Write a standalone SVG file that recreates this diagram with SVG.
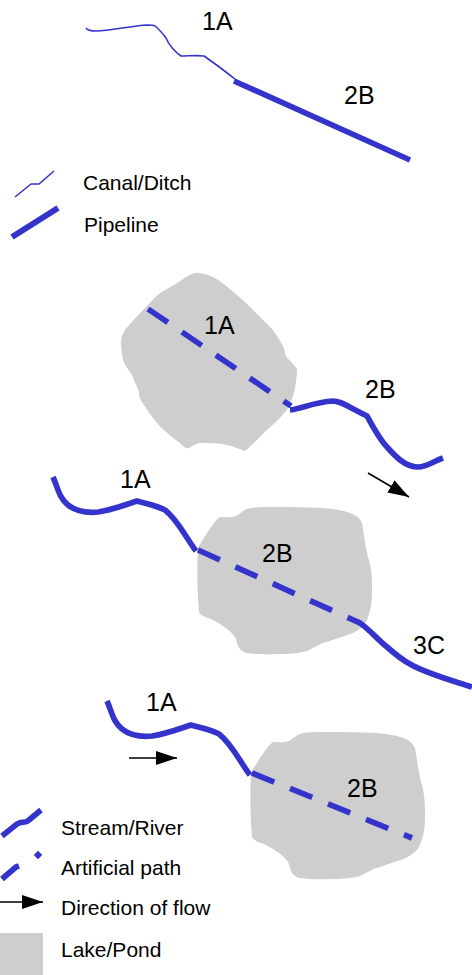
<svg xmlns="http://www.w3.org/2000/svg" xmlns:xlink="http://www.w3.org/1999/xlink" width="472" height="975" viewBox="0 0 472 975">
<style>
text{font-family:"Liberation Sans",Arial,sans-serif;fill:#000}
.lab{font-size:25px}
.leg{font-size:21px}
.lake{fill:#cecece;stroke:none}
.line{fill:none;stroke:#3434cc;stroke-linejoin:round}
.thin{stroke-width:1.6}
.thick{stroke-width:5.7}
.dash{stroke-dasharray:24 17}
.flow{stroke:#000;stroke-width:1.6;fill:none}
</style>
<defs>
<marker id="head" markerUnits="userSpaceOnUse" markerWidth="22" markerHeight="14" refX="21" refY="7" orient="auto"><polygon points="0,0 21,7 0,14" fill="#000"/></marker>
<path id="lakeB" d="M247,509 C243,510 240,514 236,516 C231,518 225,517 220,517 C215,520 204,537 198,548 C197,565 197,590 199,612 C203,618 208,617 213,620 C222,625 230,630 235,637 C238,642 236,650 247,653 C260,655 270,654 280,654 C292,654 300,653 307,651 C314,648 318,644 327,642 C335,639 345,636 353,633 C360,629 366,625 368,617 C372,607 372,597 372,587 C372,575 371,566 368,557 C365,545 364,533 362,523 C359,517 355,515 350,513 C342,510 333,509 323,508 C305,507 290,507 273,507 C262,507 253,507 247,509 Z"/>
<path id="riverA" d="M53,477 C58,488 59,498 68,505 C77,512 88,513 98,512 C112,510 125,505 137,501 C147,504 157,506 165,510 C178,520 186,538 196,551"/>
</defs>

<g id="lake-1"><path class="lake" d="M200,273 C194,272 190,275 186,277 C178,283 168,288 160,293 C154,298 148,305 143,310 C137,317 130,323 125,330 C122,335 121,338 121,343 C121,349 122,355 123,360 C125,366 129,370 132,375 C134,381 137,386 139,392 C139,396 140,399 142,402 C147,410 152,417 157,423 C164,431 172,437 180,443 C183,446 185,449 189,448 C192,446 195,444 200,443 C210,443 219,443 227,445 C233,446 239,449 245,451 C252,445 260,437 267,430 C274,424 281,417 287,410 C290,403 294,396 295,388 C296,382 297,375 297,369 C294,365 291,361 287,358 C285,355 285,352 284,348 C281,342 277,336 273,330 C264,321 255,312 246,303 C238,296 229,288 220,281 C214,277 207,274 200,273 Z"/></g>
<g id="lake-2"><use xlink:href="#lakeB" class="lake"/></g>
<g id="lake-3"><use xlink:href="#lakeB" class="lake" transform="translate(53,225)"/></g>

<g id="connectors">
<g id="section-1">
<path class="line thin" d="M86,28 C88,31 92,31 96,31 C110,31 130,26 147,25 C151,25 153,25 155,26 C160,30 163,34 166,38 C169,45 174,51 181,56 C188,56 197,55 204,56 C214,63 225,71 236,80"/>
<path class="line thick" d="M234,81 L410,160"/>
</g>
<g id="section-2">
<path class="line thick dash" d="M148,309 L291,406"/>
<path class="line thick" d="M290,410 C300,409 315,402 333,401 C340,401 345,405 367,416 C373,427 380,440 387,447 C395,456 405,467 418,467 C427,467 434,461 443,458"/>
<line class="flow" x1="368" y1="473" x2="409" y2="497" marker-end="url(#head)"/>
</g>
<g id="section-3">
<use xlink:href="#riverA" class="line thick"/>
<path class="line thick dash" d="M198,550 L360,623"/>
<path class="line thick" d="M358,622 L360,623 C370,630 378,640 387,647 C395,654 402,660 410,664 C425,673 450,680 472,687"/>
</g>
<g id="section-4">
<use xlink:href="#riverA" class="line thick" transform="translate(54,224)"/>
<path class="line thick dash" d="M252,773 L412,838"/>
<line class="flow" x1="129" y1="758" x2="177" y2="758" marker-end="url(#head)"/>
</g>
</g>

<g id="labels">
<text class="lab" x="202" y="30">1A</text>
<text class="lab" x="344" y="104">2B</text>
<text class="lab" x="204" y="334">1A</text>
<text class="lab" x="365" y="398">2B</text>
<text class="lab" x="120" y="488">1A</text>
<text class="lab" x="262" y="562">2B</text>
<text class="lab" x="413" y="654">3C</text>
<text class="lab" x="146" y="711">1A</text>
<text class="lab" x="347" y="797">2B</text>
</g>

<g id="legend-canal"><path class="line thin" d="M15,197 L31,184 L39,184 L54,171"/><text class="leg" x="83" y="190">Canal/Ditch</text></g>
<g id="legend-pipeline"><path class="line" stroke-width="6" d="M12,237 L58,208"/><text class="leg" x="84" y="232">Pipeline</text></g>
<g id="legend-stream"><path class="line thick" d="M2,836 L17,824 Q20,822 25,822 Q27,822 29,820 L41,810"/><text class="leg" x="61" y="835">Stream/River</text></g>
<g id="legend-artificial"><path class="line thick" d="M2,879 L16,867 L19,866"/><rect x="35" y="852" width="6" height="6" fill="#3434cc" transform="rotate(45 38 855)"/><text class="leg" x="61" y="875">Artificial path</text></g>
<g id="legend-flow"><line class="flow" x1="0" y1="902" x2="43" y2="902" marker-end="url(#head)"/><text class="leg" x="61" y="915">Direction of flow</text></g>
<g id="legend-lake"><rect class="lake" x="0" y="933" width="43" height="42"/><text class="leg" x="61" y="957">Lake/Pond</text></g>
</svg>
